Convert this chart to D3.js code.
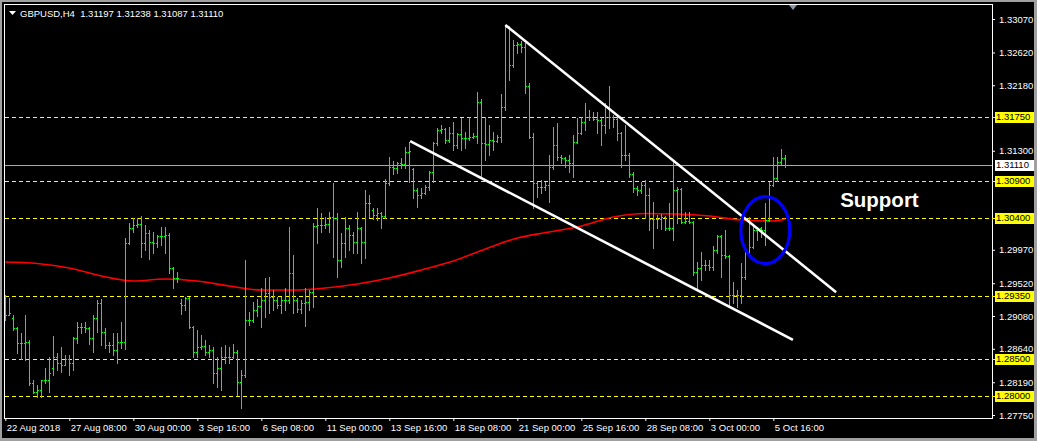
<!DOCTYPE html>
<html>
<head>
<meta charset="utf-8">
<script src="https://cdn.jsdelivr.net/npm/d3@7"></script>
<style>
  html, body { margin: 0; padding: 0; background: #000; }
  svg { display: block; }
  text { font-family: "Liberation Sans", Arial, sans-serif; }
</style>
</head>
<body>
<svg id="chart" width="1037" height="441"></svg>
<script>
// ---------------- DATA ----------------
const symbolTitle = "GBPUSD,H4  1.31197 1.31238 1.31087 1.31110";

const opens = [
1.2923,1.2909,1.2905,1.2892,1.2872,1.2872,1.2873,1.2818,1.2806,1.2809,
1.2822,1.2822,1.2838,1.2853,1.2845,1.2842,1.2850,1.2845,1.2878,1.2893,
1.2893,1.2892,1.2878,1.2905,1.2926,1.2887,1.2869,1.2869,1.2862,1.2873,
1.2873,1.3006,1.3026,1.3030,1.3032,1.3006,1.3019,1.3007,1.3006,1.3015,
1.3015,1.3017,1.2972,1.2959,1.2925,1.2923,1.2932,1.2893,1.2860,1.2866,
1.2868,1.2860,1.2862,1.2831,1.2838,1.2853,1.2853,1.2853,1.2860,1.2819,
1.2829,1.2903,1.2903,1.2916,1.2921,1.2930,1.2939,1.2934,1.2930,1.2923,
1.2930,1.2930,1.2966,1.2930,1.2917,1.2926,1.2927,1.2940,1.3029,1.3030,
1.3030,1.3032,1.3041,1.3040,1.2983,1.3006,1.3026,1.3017,1.3007,1.3026,
1.3007,1.3060,1.3050,1.3044,1.3046,1.3042,1.3087,1.3108,1.3107,1.3114,
1.3112,1.3128,1.3105,1.3077,1.3071,1.3073,1.3081,1.3101,1.3140,1.3158,
1.3159,1.3144,1.3154,1.3138,1.3152,1.3147,1.3147,1.3148,1.3150,1.3196,
1.3140,1.3139,1.3144,1.3143,1.3148,1.3189,1.3296,1.3245,1.3272,1.3273,
1.3270,1.3217,1.3149,1.3087,1.3081,1.3081,1.3084,1.3108,1.3138,1.3122,
1.3120,1.3118,1.3114,1.3142,1.3154,1.3169,1.3175,1.3175,1.3173,1.3171,
1.3165,1.3175,1.3175,1.3173,1.3154,1.3124,1.3124,1.3099,1.3080,1.3077,
1.3084,1.3071,1.3038,1.3038,1.3038,1.3041,1.3026,1.3026,1.3077,1.3079,
1.3034,1.3035,1.3034,1.2967,1.2972,1.2977,1.2977,1.2974,1.2997,1.3015,
1.2990,1.2989,1.2936,1.2936,1.2936,1.2960,1.2993,1.3001,1.3024,1.3026,
1.3024,1.3037,1.3084,1.3093,1.3115,1.31197
];
const highs = [
1.2936,1.2932,1.2909,1.2893,1.2885,1.2909,1.2876,1.2822,1.2815,1.2822,
1.2838,1.2853,1.2881,1.2858,1.2866,1.2856,1.2856,1.2880,1.2900,1.2899,
1.2900,1.2893,1.2909,1.2930,1.2931,1.2892,1.2873,1.2885,1.2885,1.2900,
1.3013,1.3033,1.3040,1.3040,1.3042,1.3030,1.3024,1.3021,1.3017,1.3028,
1.3028,1.3019,1.2974,1.2967,1.2931,1.2934,1.2934,1.2895,1.2889,1.2882,
1.2876,1.2869,1.2866,1.2853,1.2866,1.2869,1.2866,1.2870,1.2862,1.2835,
1.2983,1.2913,1.2927,1.2931,1.2946,1.2959,1.2960,1.2943,1.2934,1.2934,
1.2946,1.3028,1.2990,1.2932,1.2930,1.2946,1.2943,1.3033,1.3053,1.3046,
1.3041,1.3048,1.3087,1.3046,1.3019,1.3041,1.3030,1.3021,1.3048,1.3028,
1.3077,1.3070,1.3053,1.3053,1.3048,1.3092,1.3122,1.3116,1.3115,1.3120,
1.3135,1.3142,1.3107,1.3080,1.3080,1.3084,1.3103,1.3142,1.3161,1.3165,
1.3161,1.3162,1.3169,1.3154,1.3174,1.3155,1.3175,1.3154,1.3209,1.3200,
1.3175,1.3165,1.3155,1.3151,1.3206,1.3299,1.3297,1.3279,1.3276,1.3277,
1.3275,1.3221,1.3154,1.3088,1.3091,1.3088,1.3124,1.3162,1.3167,1.3124,
1.3122,1.3124,1.3151,1.3174,1.3175,1.3194,1.3185,1.3182,1.3182,1.3175,
1.3194,1.3217,1.3178,1.3178,1.3155,1.3165,1.3127,1.3101,1.3082,1.3088,
1.3091,1.3080,1.3061,1.3044,1.3045,1.3043,1.3060,1.3115,1.3081,1.3080,
1.3048,1.3048,1.3036,1.2981,1.2994,1.2983,1.2983,1.3002,1.3017,1.3017,
1.3024,1.2990,1.2954,1.2943,1.2979,1.2997,1.3041,1.3030,1.3028,1.3028,
1.3060,1.3088,1.3122,1.3122,1.3132,1.31238
];
const lows = [
1.2903,1.2909,1.2889,1.2858,1.2850,1.2849,1.2815,1.2805,1.2799,1.2799,
1.2818,1.2806,1.2829,1.2835,1.2833,1.2842,1.2829,1.2835,1.2872,1.2885,
1.2887,1.2870,1.2860,1.2887,1.2869,1.2865,1.2860,1.2856,1.2845,1.2865,
1.2864,1.3005,1.3021,1.3028,1.2987,1.2997,1.2985,1.2993,1.3001,1.3003,
1.2993,1.2966,1.2946,1.2954,1.2911,1.2916,1.2892,1.2853,1.2853,1.2864,
1.2856,1.2853,1.2818,1.2813,1.2809,1.2845,1.2845,1.2852,1.2802,1.2784,
1.2826,1.2896,1.2900,1.2908,1.2893,1.2907,1.2912,1.2916,1.2919,1.2912,
1.2916,1.2926,1.2912,1.2913,1.2912,1.2895,1.2916,1.2920,1.3006,1.3021,
1.3026,1.3021,1.2987,1.2960,1.2974,1.2987,1.2997,1.2993,1.2993,1.2979,
1.2986,1.3041,1.3038,1.3037,1.3026,1.3040,1.3084,1.3099,1.3100,1.3107,
1.3107,1.3088,1.3067,1.3054,1.3067,1.3072,1.3077,1.3088,1.3138,1.3154,
1.3140,1.3142,1.3131,1.3134,1.3131,1.3134,1.3144,1.3147,1.3140,1.3095,
1.3118,1.3124,1.3131,1.3142,1.3142,1.3185,1.3225,1.3242,1.3261,1.3262,
1.3208,1.3147,1.3053,1.3068,1.3073,1.3077,1.3061,1.3105,1.3118,1.3114,
1.3108,1.3101,1.3095,1.3140,1.3152,1.3158,1.3171,1.3171,1.3154,1.3138,
1.3154,1.3161,1.3162,1.3144,1.3108,1.3118,1.3095,1.3075,1.3070,1.3073,
1.3040,1.3024,1.2999,1.3026,1.3025,1.3024,1.3024,1.3010,1.3033,1.3033,
1.3033,1.3033,1.2963,1.2943,1.2956,1.2970,1.2970,1.2970,1.2993,1.2960,
1.2986,1.2923,1.2926,1.2920,1.2926,1.2958,1.2990,1.2999,1.3010,1.3014,
1.3003,1.3035,1.3082,1.3090,1.3112,1.31087
];
const closes = [
1.2909,1.2912,1.2892,1.2872,1.2872,1.2873,1.2818,1.2806,1.2809,1.2822,
1.2822,1.2831,1.2853,1.2845,1.2842,1.2850,1.2845,1.2878,1.2893,1.2893,
1.2892,1.2878,1.2905,1.2926,1.2887,1.2869,1.2869,1.2862,1.2873,1.2873,
1.3006,1.3026,1.3030,1.3032,1.3006,1.3019,1.3007,1.3006,1.3015,1.3015,
1.3017,1.2972,1.2959,1.2959,1.2923,1.2932,1.2893,1.2860,1.2866,1.2868,
1.2860,1.2862,1.2831,1.2838,1.2853,1.2853,1.2853,1.2860,1.2819,1.2829,
1.2903,1.2903,1.2916,1.2921,1.2930,1.2939,1.2934,1.2930,1.2923,1.2930,
1.2930,1.2966,1.2930,1.2917,1.2926,1.2927,1.2940,1.3029,1.3030,1.3030,
1.3032,1.3041,1.3040,1.2983,1.3006,1.3026,1.3017,1.3007,1.3026,1.3007,
1.3060,1.3060,1.3044,1.3046,1.3042,1.3087,1.3108,1.3107,1.3114,1.3112,
1.3128,1.3130,1.3077,1.3071,1.3073,1.3081,1.3101,1.3140,1.3158,1.3159,
1.3144,1.3154,1.3138,1.3152,1.3147,1.3147,1.3148,1.3150,1.3196,1.3140,
1.3139,1.3144,1.3143,1.3148,1.3189,1.3296,1.3245,1.3272,1.3273,1.3270,
1.3217,1.3149,1.3087,1.3081,1.3081,1.3084,1.3108,1.3138,1.3122,1.3120,
1.3118,1.3114,1.3142,1.3154,1.3169,1.3175,1.3175,1.3173,1.3171,1.3165,
1.3175,1.3175,1.3173,1.3154,1.3124,1.3124,1.3099,1.3080,1.3077,1.3084,
1.3071,1.3038,1.3038,1.3038,1.3041,1.3026,1.3026,1.3077,1.3079,1.3034,
1.3035,1.3034,1.2967,1.2972,1.2977,1.2977,1.2974,1.2997,1.3015,1.2990,
1.2989,1.2936,1.2936,1.2936,1.2960,1.2993,1.3001,1.3024,1.3026,1.3024,
1.3037,1.3084,1.3093,1.3115,1.3120,1.31110
];

// moving average (red) read at sampled bars
const maBars   = [0,8,16,24,32,40,48,56,64,72,80,88,96,104,112,120,128,136,144,152,160,168,176,184,192,195];
const maValues = [1.29805,1.29785,1.29725,1.29617,1.29550,1.29577,1.29550,1.29483,1.29429,1.29429,
                  1.29456,1.29510,1.29590,1.29698,1.29819,1.29980,1.30128,1.30208,1.30289,1.30410,
                  1.30457,1.30450,1.30423,1.30370,1.30356,1.30383];

// price axis (labels hidden under the level boxes are omitted)
const priceTicks = [1.33070,1.32620,1.32180,1.31300,1.29970,1.29520,1.29080,1.28640,1.28190,1.27750];
const priceLevels = [1.31750,1.30900,1.30400,1.29350,1.28500,1.28000];
const currentPrice = 1.31110;

// time axis
const dateTickBars = [0,16,32,48,64,80,96,112,128,144,160,176,192];
const dateLabels = ["22 Aug 2018","27 Aug 08:00","30 Aug 00:00","3 Sep 16:00","6 Sep 08:00","11 Sep 00:00",
                    "13 Sep 16:00","18 Sep 08:00","21 Sep 00:00","25 Sep 16:00","28 Sep 08:00","3 Oct 00:00","5 Oct 16:00"];

// drawn objects (bar index, price)
const upperTrend = [[125, 1.3299],[207.7, 1.2940]];
const lowerTrend = [[101.2, 1.3143],[196.9, 1.2876]];
const ellipseCenter = [190.0, 1.30235];
const supportLabel = "Support";
const supportAnchor = [208.7, 1.3054];

// ---------------- CHART ----------------
const W = 1037, H = 441;
const svg = d3.select("#chart");
const FONT = 9.5;

const x = d3.scaleLinear().domain([0, 195]).range([5.33, 785.33]);
const y = d3.scaleLinear().domain([1.27750, 1.33070]).range([415, 19]);

svg.append("rect").attr("width", W).attr("height", H).attr("fill", "#000");

// window border
const border = svg.append("g").attr("fill", "#a0a0a0");
border.append("rect").attr("x", 0).attr("y", 0).attr("width", W).attr("height", 2);
border.append("rect").attr("x", 0).attr("y", H - 3).attr("width", W).attr("height", 3);
border.append("rect").attr("x", 0).attr("y", 0).attr("width", 2).attr("height", H);
border.append("rect").attr("x", W - 3).attr("y", 0).attr("width", 3).attr("height", H);

// horizontal levels (yellow dashed)
svg.append("g").selectAll("line").data(priceLevels).join("line")
  .attr("x1", 5).attr("x2", 994)
  .attr("y1", d => Math.round(y(d)) + 0.5).attr("y2", d => Math.round(y(d)) + 0.5)
  .attr("stroke", "#ffff00").attr("stroke-width", 1).attr("stroke-dasharray", "4,3")
  .attr("shape-rendering", "crispEdges");

// current price line
svg.append("line")
  .attr("x1", 5).attr("x2", 992)
  .attr("y1", Math.round(y(currentPrice)) + 0.5).attr("y2", Math.round(y(currentPrice)) + 0.5)
  .attr("stroke", "#a8a8a8").attr("stroke-width", 1).attr("shape-rendering", "crispEdges");

// moving average
const maData = maBars.map((b, k) => [b, maValues[k]]);
svg.append("path").datum(maData)
  .attr("d", d3.line().x(d => x(d[0])).y(d => y(d[1])).curve(d3.curveMonotoneX))
  .attr("fill", "none").attr("stroke", "#ff0000").attr("stroke-width", 1.6);

// OHLC bars
const bars = svg.append("g").attr("shape-rendering", "crispEdges").attr("fill", "#00ff00");
opens.forEach((o, i) => {
  const xi = Math.round(x(i));
  const yh = Math.round(y(highs[i])), yl = Math.round(y(lows[i]));
  bars.append("rect").attr("x", xi).attr("y", yh).attr("width", 1).attr("height", Math.max(1, yl - yh + 1));
  bars.append("rect").attr("x", xi - 1).attr("y", Math.round(y(o))).attr("width", 1).attr("height", 1);
  bars.append("rect").attr("x", xi + 1).attr("y", Math.round(y(closes[i]))).attr("width", 1).attr("height", 1);
});

// trend lines
[upperTrend, lowerTrend].forEach(t => {
  svg.append("line")
    .attr("x1", x(t[0][0])).attr("y1", y(t[0][1]))
    .attr("x2", x(t[1][0])).attr("y2", y(t[1][1]))
    .attr("stroke", "#ffffff").attr("stroke-width", 2.6);
});

// ellipse
svg.append("ellipse")
  .attr("cx", x(ellipseCenter[0])).attr("cy", y(ellipseCenter[1]))
  .attr("rx", 24.5).attr("ry", 33.5)
  .attr("fill", "none").attr("stroke", "#0000ff").attr("stroke-width", 3.2);

// support label
svg.append("text")
  .attr("x", x(supportAnchor[0])).attr("y", y(supportAnchor[1]))
  .attr("fill", "#ffffff").attr("font-size", 20.5).attr("font-weight", "bold")
  .text(supportLabel);

// frame
svg.append("rect").attr("x", 4.5).attr("y", 4.5).attr("width", 988).attr("height", 414)
  .attr("fill", "none").attr("stroke", "#ffffff").attr("stroke-width", 1).attr("shape-rendering", "crispEdges");

// shift marker
svg.append("path").attr("d", "M789,5 L797,5 L793,10 Z").attr("fill", "#8a96a3");

// price axis
const yAxis = d3.axisRight(y).tickValues(priceTicks).tickSize(3).tickPadding(4).tickFormat(d3.format(".5f"));
const ya = svg.append("g").attr("transform", "translate(992,0)").call(yAxis);
ya.select(".domain").remove();
ya.selectAll(".tick line").attr("stroke", "#ffffff");
ya.selectAll(".tick text").attr("fill", "#ffffff").attr("font-size", FONT)
  .attr("font-family", '"Liberation Sans", Arial, sans-serif');

// level labels
const lab = svg.append("g");
priceLevels.forEach(p => {
  const yy = Math.round(y(p));
  lab.append("line").attr("x1", 992).attr("x2", 995).attr("y1", yy + 0.5).attr("y2", yy + 0.5)
     .attr("stroke", "#ffff00").attr("shape-rendering", "crispEdges");
  lab.append("rect").attr("x", 995).attr("y", yy - 5).attr("width", 39).attr("height", 11).attr("fill", "#ffff00");
  lab.append("text").attr("x", 996).attr("y", yy).attr("dy", "0.35em").attr("font-size", FONT)
     .attr("fill", "#000").text(d3.format(".5f")(p));
});
{
  const yy = Math.round(y(currentPrice));
  lab.append("rect").attr("x", 995).attr("y", yy - 5).attr("width", 39).attr("height", 11).attr("fill", "#ffffff");
  lab.append("text").attr("x", 996).attr("y", yy).attr("dy", "0.35em").attr("font-size", FONT)
     .attr("fill", "#000").text(d3.format(".5f")(currentPrice));
}

// time axis
const xAxis = d3.axisBottom(x).tickValues(dateTickBars).tickSize(3).tickPadding(3)
  .tickFormat((d, k) => dateLabels[k]);
const xa = svg.append("g").attr("transform", "translate(0,418)").call(xAxis);
xa.select(".domain").remove();
xa.selectAll(".tick line").attr("stroke", "#ffffff");
xa.selectAll(".tick text").attr("fill", "#ffffff").attr("font-size", FONT)
  .attr("text-anchor", "start").attr("x", 1)
  .attr("font-family", '"Liberation Sans", Arial, sans-serif');

// title
svg.append("path").attr("d", "M9,11 L16,11 L12.5,15 Z").attr("fill", "#ffffff");
svg.append("text").attr("x", 20).attr("y", 16.5).attr("fill", "#ffffff").attr("font-size", FONT)
  .attr("xml:space", "preserve").style("white-space", "pre").text(symbolTitle);
</script>
</body>
</html>
